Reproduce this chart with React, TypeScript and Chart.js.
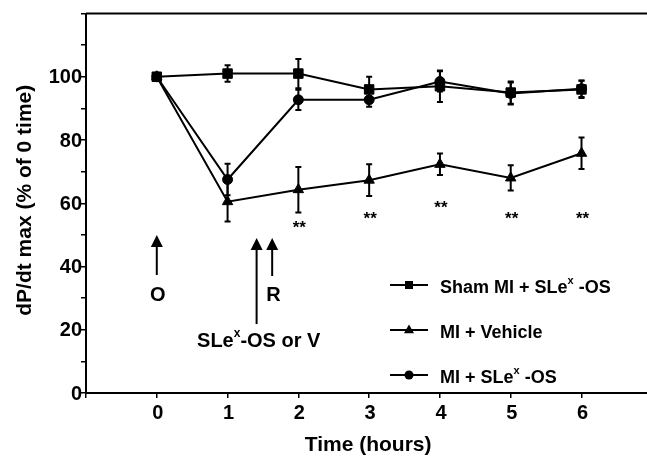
import React, { useEffect, useRef } from 'react';
import { Chart, registerables } from 'chart.js';

Chart.register(...registerables);

// ---- data ----
const hours = [0, 1, 2, 3, 4, 5, 6];
const shamMI = [100, 101, 101, 96, 97, 95, 96];
const shamErr = [0, 2.6, 4.6, 4, 5, 3.5, 2.7];
const miVehicle = [100, 60.5, 64.3, 67.3, 72.3, 68, 75.8];
const vehicleErr = [0, 6.3, 7.2, 5, 3.4, 4, 5];
const miSLex = [100, 67.5, 92.7, 92.7, 98.5, 94.7, 96.2];
const slexErr = [0, 5, 3.2, 2.2, 3.2, 3.5, 2.6];

const yTickLabels = [0, 20, 40, 60, 80, 100];
const xTickLabels = [0, 1, 2, 3, 4, 5, 6];

// significance markers (** below MI + Vehicle)
const sigHours = [2, 3, 4, 5, 6];
const sigLevel = [53.5, 56.6, 59.8, 56.4, 56.6];

// event arrows (x in hours, shaft from -> tip in y units)
const arrowX = [0, 1.41, 1.63];
const arrowFrom = [37.3, 21.8, 37];
const arrowTip = [50, 49, 49];

const FONT_FAMILY = '"Liberation Sans", Arial, Helvetica, sans-serif';
const f = (size: number) => `bold ${size}px ${FONT_FAMILY}`;

type Part = [string, boolean?];

function richWidth(ctx: CanvasRenderingContext2D, parts: Part[], size: number) {
  let w = 0;
  for (const [t, sup] of parts) {
    ctx.font = f(sup ? Math.round(size * 0.62) : size);
    w += ctx.measureText(t).width;
  }
  return w;
}

function drawRich(
  ctx: CanvasRenderingContext2D,
  parts: Part[],
  x: number,
  y: number,
  size: number,
  align: 'left' | 'center' = 'left'
) {
  const total = richWidth(ctx, parts, size);
  let cx = align === 'center' ? x - total / 2 : x;
  ctx.textAlign = 'left';
  ctx.textBaseline = 'alphabetic';
  for (const [t, sup] of parts) {
    const s = sup ? Math.round(size * 0.62) : size;
    ctx.font = f(s);
    ctx.fillText(t, cx, sup ? y - size * 0.5 : y);
    cx += ctx.measureText(t).width;
  }
}

function drawMarker(ctx: CanvasRenderingContext2D, style: string, x: number, y: number, r: number) {
  ctx.beginPath();
  if (style === 'rect') {
    ctx.rect(x - r, y - r, 2 * r, 2 * r);
  } else if (style === 'triangle') {
    ctx.moveTo(x, y - r * 1.1);
    ctx.lineTo(x + r, y + r * 0.65);
    ctx.lineTo(x - r, y + r * 0.65);
    ctx.closePath();
  } else {
    ctx.arc(x, y, r, 0, Math.PI * 2);
  }
  ctx.fill();
}

const errorSets = [shamErr, vehicleErr, slexErr];

const overlayPlugin = {
  id: 'overlay',
  beforeDatasetsDraw(chart: any) {
    const ctx: CanvasRenderingContext2D = chart.ctx;
    const xs = chart.scales.x;
    const ys = chart.scales.y;
    ctx.save();
    ctx.strokeStyle = '#000';
    ctx.lineWidth = 2;
    chart.data.datasets.forEach((ds: any, di: number) => {
      const errs = errorSets[di];
      ds.data.forEach((p: any, i: number) => {
        const e = errs[i];
        if (!e) return;
        const px = xs.getPixelForValue(p.x);
        const yt = ys.getPixelForValue(p.y + e);
        const yb = ys.getPixelForValue(p.y - e);
        ctx.beginPath();
        ctx.moveTo(px, yt);
        ctx.lineTo(px, yb);
        ctx.moveTo(px - 3, yt);
        ctx.lineTo(px + 3, yt);
        ctx.moveTo(px - 3, yb);
        ctx.lineTo(px + 3, yb);
        ctx.stroke();
      });
    });
    ctx.restore();
  },
  afterDraw(chart: any) {
    const ctx: CanvasRenderingContext2D = chart.ctx;
    const xs = chart.scales.x;
    const ys = chart.scales.y;
    const area = chart.chartArea;
    ctx.save();
    ctx.fillStyle = '#000';
    ctx.strokeStyle = '#000';

    // top frame line
    ctx.lineWidth = 2;
    ctx.beginPath();
    ctx.moveTo(area.left, area.top);
    ctx.lineTo(area.right, area.top);
    ctx.stroke();

    // y tick labels
    ctx.font = f(20);
    ctx.textAlign = 'right';
    ctx.textBaseline = 'middle';
    yTickLabels.forEach((v) => {
      ctx.fillText(String(v), area.left - 4, ys.getPixelForValue(v) + 1);
    });
    // x tick labels
    ctx.textAlign = 'center';
    ctx.textBaseline = 'alphabetic';
    xTickLabels.forEach((v) => {
      ctx.fillText(String(v), xs.getPixelForValue(v) + 1, area.bottom + 26);
    });

    // axis titles
    ctx.font = f(21);
    ctx.textAlign = 'center';
    ctx.fillText('Time (hours)', (area.left + area.right) / 2 - 1, 451);
    ctx.save();
    ctx.translate(25, (area.top + area.bottom) / 2 - 3);
    ctx.rotate(-Math.PI / 2);
    ctx.textBaseline = 'middle';
    ctx.fillText('dP/dt max (% of 0 time)', 0, 0);
    ctx.restore();

    // arrows
    arrowX.forEach((ax, i) => {
      const px = xs.getPixelForValue(ax);
      const yTip = ys.getPixelForValue(arrowTip[i]);
      const yFrom = ys.getPixelForValue(arrowFrom[i]);
      ctx.lineWidth = 2;
      ctx.beginPath();
      ctx.moveTo(px, yFrom);
      ctx.lineTo(px, yTip + 8);
      ctx.stroke();
      ctx.beginPath();
      ctx.moveTo(px, yTip);
      ctx.lineTo(px + 6, yTip + 12);
      ctx.lineTo(px - 6, yTip + 12);
      ctx.closePath();
      ctx.fill();
    });

    // arrow labels
    ctx.font = f(20);
    ctx.textAlign = 'center';
    ctx.textBaseline = 'alphabetic';
    ctx.fillText('O', xs.getPixelForValue(0) + 1, ys.getPixelForValue(29.1));
    ctx.fillText('R', xs.getPixelForValue(1.65), ys.getPixelForValue(29.1));
    drawRich(ctx, [['SLe'], ['x', true], ['-OS or V']], xs.getPixelForValue(1.44), ys.getPixelForValue(14.6), 20, 'center');

    // significance stars
    ctx.font = f(17);
    ctx.textAlign = 'center';
    ctx.textBaseline = 'alphabetic';
    sigHours.forEach((h, i) => {
      ctx.fillText('**', xs.getPixelForValue(h) + 1, ys.getPixelForValue(sigLevel[i]) + 9.5);
    });

    // legend
    const legend: { style: string; r: number; parts: Part[] }[] = [
      { style: 'rect', r: 4, parts: [['Sham MI + SLe'], ['x', true], [' -OS']] },
      { style: 'triangle', r: 5, parts: [['MI + Vehicle']] },
      { style: 'circle', r: 4.5, parts: [['MI + SLe'], ['x', true], [' -OS']] },
    ];
    const lx0 = 390;
    const lx1 = 428;
    const textX = 440;
    legend.forEach((item, i) => {
      const ly = 285 + i * 45;
      ctx.lineWidth = 2;
      ctx.beginPath();
      ctx.moveTo(lx0, ly);
      ctx.lineTo(lx1, ly);
      ctx.stroke();
      drawMarker(ctx, item.style, (lx0 + lx1) / 2, ly, item.r);
      drawRich(ctx, item.parts, textX, ly + 7.5, 18, 'left');
    });

    ctx.restore();
  },
};

export default function App() {
  const ref = useRef<HTMLCanvasElement | null>(null);

  useEffect(() => {
    if (!ref.current) return;
    const mk = (vals: number[]) => hours.map((h, i) => ({ x: h, y: vals[i] }));
    const common = {
      borderColor: '#000',
      backgroundColor: '#000',
      pointBackgroundColor: '#000',
      pointBorderColor: '#000',
      borderWidth: 2,
      pointBorderWidth: 1,
      tension: 0,
      fill: false,
    };
    const chart = new Chart(ref.current, {
      type: 'line',
      data: {
        datasets: [
          { ...common, label: 'Sham MI + SLex-OS', data: mk(shamMI), pointStyle: 'rect', pointRadius: 6.7 },
          { ...common, label: 'MI + Vehicle', data: mk(miVehicle), pointStyle: 'triangle', pointRadius: 6 },
          { ...common, label: 'MI + SLex-OS', data: mk(miSLex), pointStyle: 'circle', pointRadius: 5 },
        ],
      } as any,
      options: {
        animation: false,
        responsive: false,
        devicePixelRatio: 1,
        layout: { padding: { top: 13.5, left: 0, right: 0, bottom: 0 } },
        plugins: { legend: { display: false }, tooltip: { enabled: false }, title: { display: false } },
        scales: {
          x: {
            type: 'linear',
            min: -1,
            max: 7,
            afterFit: (s: any) => {
              s.height = 63;
            },
            ticks: { display: false, stepSize: 1 },
            grid: { display: true, drawOnChartArea: false, drawTicks: true, tickLength: 5, color: '#000', lineWidth: 1.5 },
            border: { display: true, color: '#000', width: 2 },
          },
          y: {
            type: 'linear',
            min: 0,
            max: 120,
            afterFit: (s: any) => {
              s.width = 86;
            },
            ticks: { display: false, stepSize: 10 },
            grid: { display: true, drawOnChartArea: false, drawTicks: true, tickLength: 5, color: '#000', lineWidth: 1.5 },
            border: { display: true, color: '#000', width: 2 },
          },
        },
      } as any,
      plugins: [overlayPlugin],
    });
    return () => chart.destroy();
  }, []);

  return (
    <div style={{ position: 'fixed', left: 0, top: 0, width: 660, height: 456, background: '#fff' }}>
      <canvas ref={ref} width={660} height={456} style={{ display: 'block' }} />
    </div>
  );
}
